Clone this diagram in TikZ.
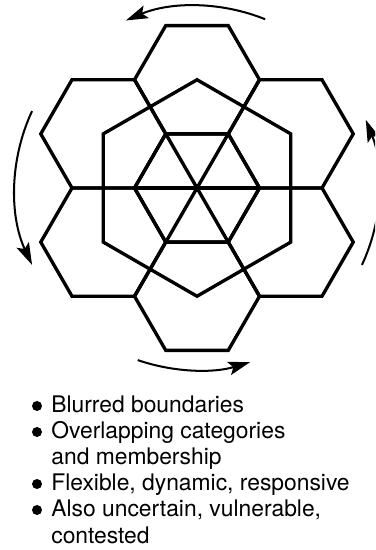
\documentclass[tikz,border=0pt]{standalone}
\usepackage{fontspec}
\setmainfont{TeX Gyre Heros}
\usetikzlibrary{arrows.meta, calc}

\tikzset{
  hexline/.style={line width=1.9pt, line join=miter},
  turnarrow/.style={line width=1.15pt, -{Stealth[length=0.44cm, width=0.27cm, inset=0.09cm]}},
  listtext/.style={anchor=base west, inner sep=0pt, font=\fontsize{13}{15}\selectfont},
  listdot/.style={circle, fill, inner sep=0pt, minimum size=0.2cm},
}

\begin{document}
\begin{tikzpicture}[x=0.02cm, y=0.02cm]
  % page frame, the right arc runs off it
  \clip (0,0) rectangle (375,550);
  \coordinate (C) at (197,362);

  % six outer cells round the middle one
  \foreach \a in {30,90,...,330} {
    \coordinate (cell\a) at ($(C)+(\a:108.25)$);
    \draw[hexline] ($(cell\a)+(0:62.5)$) -- ++(120:62.5) -- ++(180:62.5) -- ++(240:62.5) -- ++(300:62.5) -- ++(0:62.5) -- cycle;
  }

  % middle cell cut into six triangles
  \draw[hexline] ($(C)+(0:62.5)$) -- ++(120:62.5) -- ++(180:62.5) -- ++(240:62.5) -- ++(300:62.5) -- ++(0:62.5) -- cycle;
  \draw[hexline] ($(C)+(0:62.5)$) -- ($(C)+(180:62.5)$);
  \draw[hexline] ($(C)+(60:62.5)$) -- ($(C)+(240:62.5)$);
  \draw[hexline] ($(C)+(120:62.5)$) -- ($(C)+(300:62.5)$);

  % hexagon through the centres of the outer cells
  \draw[hexline] (cell30) -- (cell90) -- (cell150) -- (cell210) -- (cell270) -- (cell330) -- cycle;

  % turning arrows
  \draw[turnarrow] ($(C)+(68:182)$) arc[start angle=68, end angle=113, radius=3.64cm];
  \draw[turnarrow] ($(C)+(155:182)$) arc[start angle=155, end angle=205, radius=3.64cm];
  \draw[turnarrow] ($(C)+(251:182)$) arc[start angle=251, end angle=287, radius=3.64cm];
  \draw[turnarrow] ($(C)+(335:182)$) arc[start angle=335, end angle=382, radius=3.64cm];

  % list below
  \node[listdot] (dot1) at (37,144) {};
  \node[listtext] (item1) at (51,137) {Blurred boundaries};
  \node[listdot] (dot2) at (37,118) {};
  \node[listtext] (item2) at (51,111) {Overlapping categories};
  \node[listtext] (item2b) at (51,85) {and membership};
  \node[listdot] (dot3) at (37,66) {};
  \node[listtext] (item3) at (51,59) {Flexible, dynamic, responsive};
  \node[listdot] (dot4) at (37,40) {};
  \node[listtext] (item4) at (51,33) {Also uncertain, vulnerable,};
  \node[listtext] (item4b) at (51,7) {contested};
\end{tikzpicture}
\end{document}
